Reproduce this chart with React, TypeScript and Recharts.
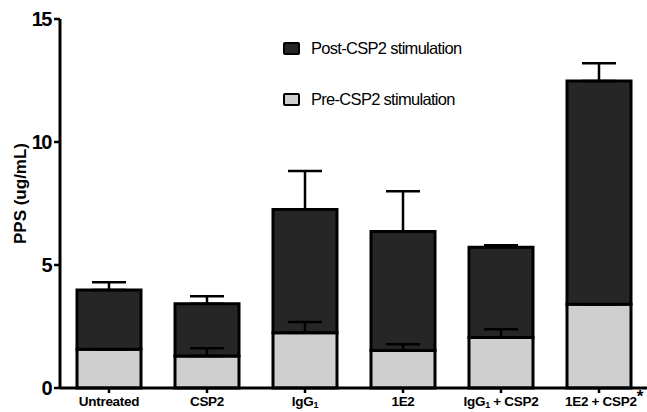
import React from "react";
import { BarChart, Bar, XAxis, YAxis, ErrorBar } from "recharts";

const categories = ["Untreated", "CSP2", "IgG1", "1E2", "IgG1 + CSP2", "1E2 + CSP2*"];
const preValues = [1.58, 1.3, 2.25, 1.52, 2.05, 3.4];
const preErrTop = [1.58, 1.62, 2.68, 1.78, 2.39, 3.4];
const postTotals = [3.98, 3.42, 7.26, 6.36, 5.72, 12.48];
const postErrTop = [4.3, 3.73, 8.82, 8.0, 5.8, 13.2];
const yTicks = [0, 5, 10, 15];

const DARK = "#262626";
const LIGHT = "#cfcfcf";
const FONT = "'Liberation Sans', Arial, sans-serif";

const data = categories.map((c, i) => ({
  name: c,
  pre: preValues[i],
  post: postTotals[i] - preValues[i],
  preErr: [0, preErrTop[i] - preValues[i]],
  postErr: [0, postErrTop[i] - postTotals[i]],
}));

function renderLabel(label: string) {
  const star = label.endsWith("*");
  const base = star ? label.slice(0, -1) : label;
  const parts: React.ReactNode[] = [];
  if (base.startsWith("IgG1")) {
    parts.push(<tspan key="a">IgG</tspan>);
    parts.push(
      <tspan key="b" dy={2} fontSize={9}>
        1
      </tspan>
    );
    parts.push(
      <tspan key="c" dy={-2}>
        {base.slice(4)}
      </tspan>
    );
  } else {
    parts.push(<tspan key="a">{base}</tspan>);
  }
  if (star) {
    parts.push(
      <tspan key="s" dy={-4} fontSize={17}>
        *
      </tspan>
    );
  }
  return parts;
}

const XTick = (props: any) => {
  const { x, y, payload } = props;
  const star = String(payload.value).endsWith("*");
  return (
    <text
      x={x + (star ? 5 : 0)}
      y={y + 11}
      textAnchor="middle"
      fontFamily={FONT}
      fontWeight="bold"
      fontSize={13.5}
      letterSpacing={-0.3}
      fill="#000"
    >
      {renderLabel(String(payload.value))}
    </text>
  );
};

const YTick = (props: any) => {
  const { x, y, payload } = props;
  return (
    <text
      x={x - 1}
      y={y + 7}
      textAnchor="end"
      fontFamily={FONT}
      fontWeight="bold"
      fontSize={20}
      letterSpacing={-1.5}
      fill="#000"
    >
      {payload.value}
    </text>
  );
};

const legendItems = [
  { label: "Post-CSP2 stimulation", color: DARK },
  { label: "Pre-CSP2 stimulation", color: LIGHT },
];

export default function App() {
  return (
    <div style={{ position: "absolute", left: 0, top: 0, width: 647, height: 412, background: "#fff", overflow: "hidden" }}>
      <BarChart
        width={648}
        height={412}
        data={data}
        margin={{ top: 19, right: 0, bottom: 0, left: 0 }}
        barSize={64}
      >
        <XAxis
          dataKey="name"
          height={24}
          tick={<XTick />}
          tickLine={{ stroke: "#000", strokeWidth: 2.5 }}
          tickSize={5}
          axisLine={{ stroke: "#000", strokeWidth: 3 }}
          interval={0}
        />
        <YAxis
          domain={[0, 15]}
          ticks={yTicks}
          width={60}
          tick={<YTick />}
          tickLine={{ stroke: "#000", strokeWidth: 2.5 }}
          tickSize={6}
          axisLine={{ stroke: "#000", strokeWidth: 3 }}
          label={{
            value: "PPS (ug/mL)",
            angle: -90,
            position: "insideLeft",
            offset: 20,
            dy: -10,
            style: { fontFamily: FONT, fontWeight: "bold", fontSize: 17, fill: "#000", textAnchor: "middle" },
          }}
        />
        <Bar dataKey="pre" stackId="a" fill={LIGHT} stroke="#000" strokeWidth={3} isAnimationActive={false}>
          <ErrorBar dataKey="preErr" width={17} stroke="#000" strokeWidth={2.5} direction="y" />
        </Bar>
        <Bar dataKey="post" stackId="a" fill={DARK} stroke="#000" strokeWidth={3} isAnimationActive={false}>
          <ErrorBar dataKey="postErr" width={17} stroke="#000" strokeWidth={2.5} direction="y" />
        </Bar>
      </BarChart>
      <div style={{ position: "absolute", left: 283, top: 37, fontFamily: FONT, fontSize: 16.5, letterSpacing: -0.7 }}>
        {legendItems.map((it, i) => (
          <div
            key={it.label}
            style={{ display: "flex", alignItems: "center", height: 22, marginBottom: i === 0 ? 29 : 0 }}
          >
            <div
              style={{
                width: 13,
                height: 9,
                background: it.color,
                border: "2px solid #000",
                borderRadius: 2,
                marginRight: 11,
              }}
            />
            <span>{it.label}</span>
          </div>
        ))}
      </div>
    </div>
  );
}
